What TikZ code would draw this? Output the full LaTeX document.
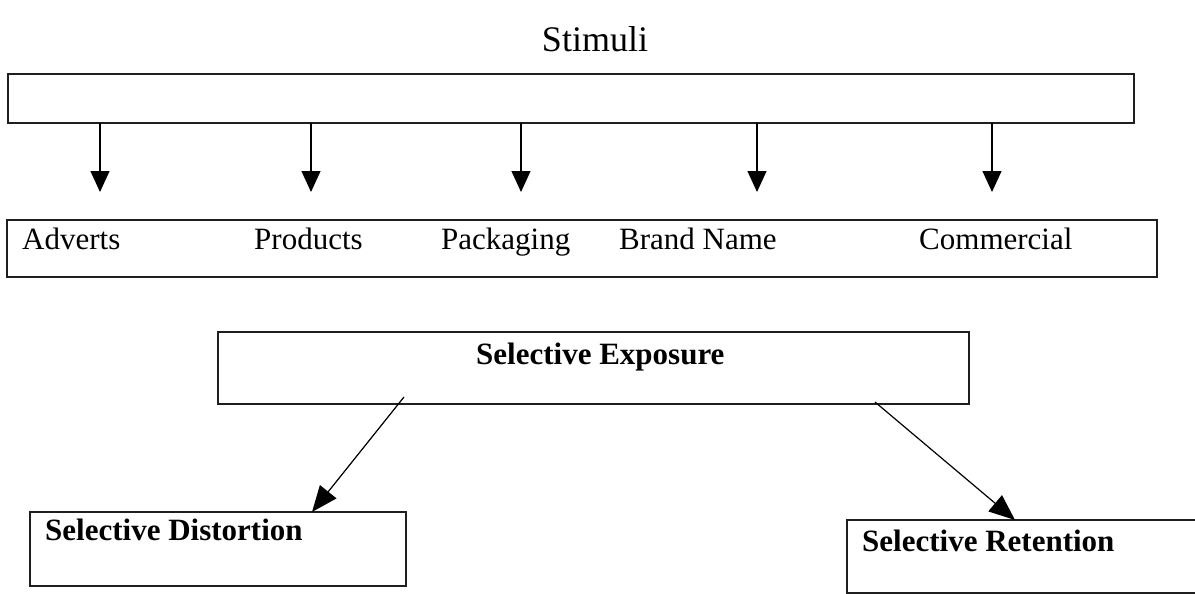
\documentclass[tikz,border=0pt]{standalone}
\usepackage{fontspec}
\setmainfont{Liberation Serif}
\usetikzlibrary{arrows.meta}
\begin{document}
\begin{tikzpicture}[x=1pt,y=-1pt,
  box/.style={draw=black!88,line width=1.3pt,inner sep=0pt,outer sep=0pt},
  label/.style={inner sep=0pt,anchor=base west,font=\fontsize{31}{36}\selectfont},
  boldlabel/.style={label,font=\fontsize{31}{36}\selectfont\bfseries},
  arr/.style={line width=1.2pt,-{Triangle[length=21pt,width=19pt]}},
  diag/.style={line width=1.2pt,-{Triangle[length=26pt,width=21pt]}}]
\useasboundingbox (0,0) rectangle (1195,594);

% title
\node[inner sep=0pt,anchor=base,font=\fontsize{36}{42}\selectfont] (title) at (595,52) {Stimuli};

% stimuli bar and the row of stimulus types
\node[box,minimum width=1126pt,minimum height=49pt] (stim) at (571,98.5) {};
\node[box,minimum width=1150pt,minimum height=57pt] (types) at (582,248.5) {};
\node[label] (adv) at (22,249) {Adverts};
\node[label] (prod) at (254,249) {Products};
\node[label] (pack) at (441,249) {Packaging};
\node[label] (brand) at (619,249) {Brand Name};
\node[label] (comm) at (919,249) {Commercial};

% arrow tips above the row
\coordinate (t1) at (100,192);
\coordinate (t2) at (311,192);
\coordinate (t3) at (521,192);
\coordinate (t4) at (757,192);
\coordinate (t5) at (992,192);
\foreach \t in {t1,t2,t3,t4,t5}
  \draw[arr] (stim.south -| \t) -- (\t);

% selection stages
\node[box,minimum width=751pt,minimum height=72pt] (expo) at (593.5,368) {};
\node[boldlabel] (expot) at (476,364) {Selective Exposure};
\node[box,minimum width=376pt,minimum height=74pt] (dist) at (218,549) {};
\node[boldlabel] (distt) at (45,540) {Selective Distortion};
% this box runs on past the right edge of the page
\node[box,minimum width=373pt,minimum height=73pt] (ret) at (1033.5,556.5) {};
\node[boldlabel] (rett) at (862,551) {Selective Retention};

% branches from exposure
\coordinate (e1) at (404,397);
\coordinate (e2) at (875,402);
\draw[diag] (e1) -- (dist.north -| 312,0);
\draw[diag] (e2) -- (ret.north -| 1015,0);
\end{tikzpicture}
\end{document}
